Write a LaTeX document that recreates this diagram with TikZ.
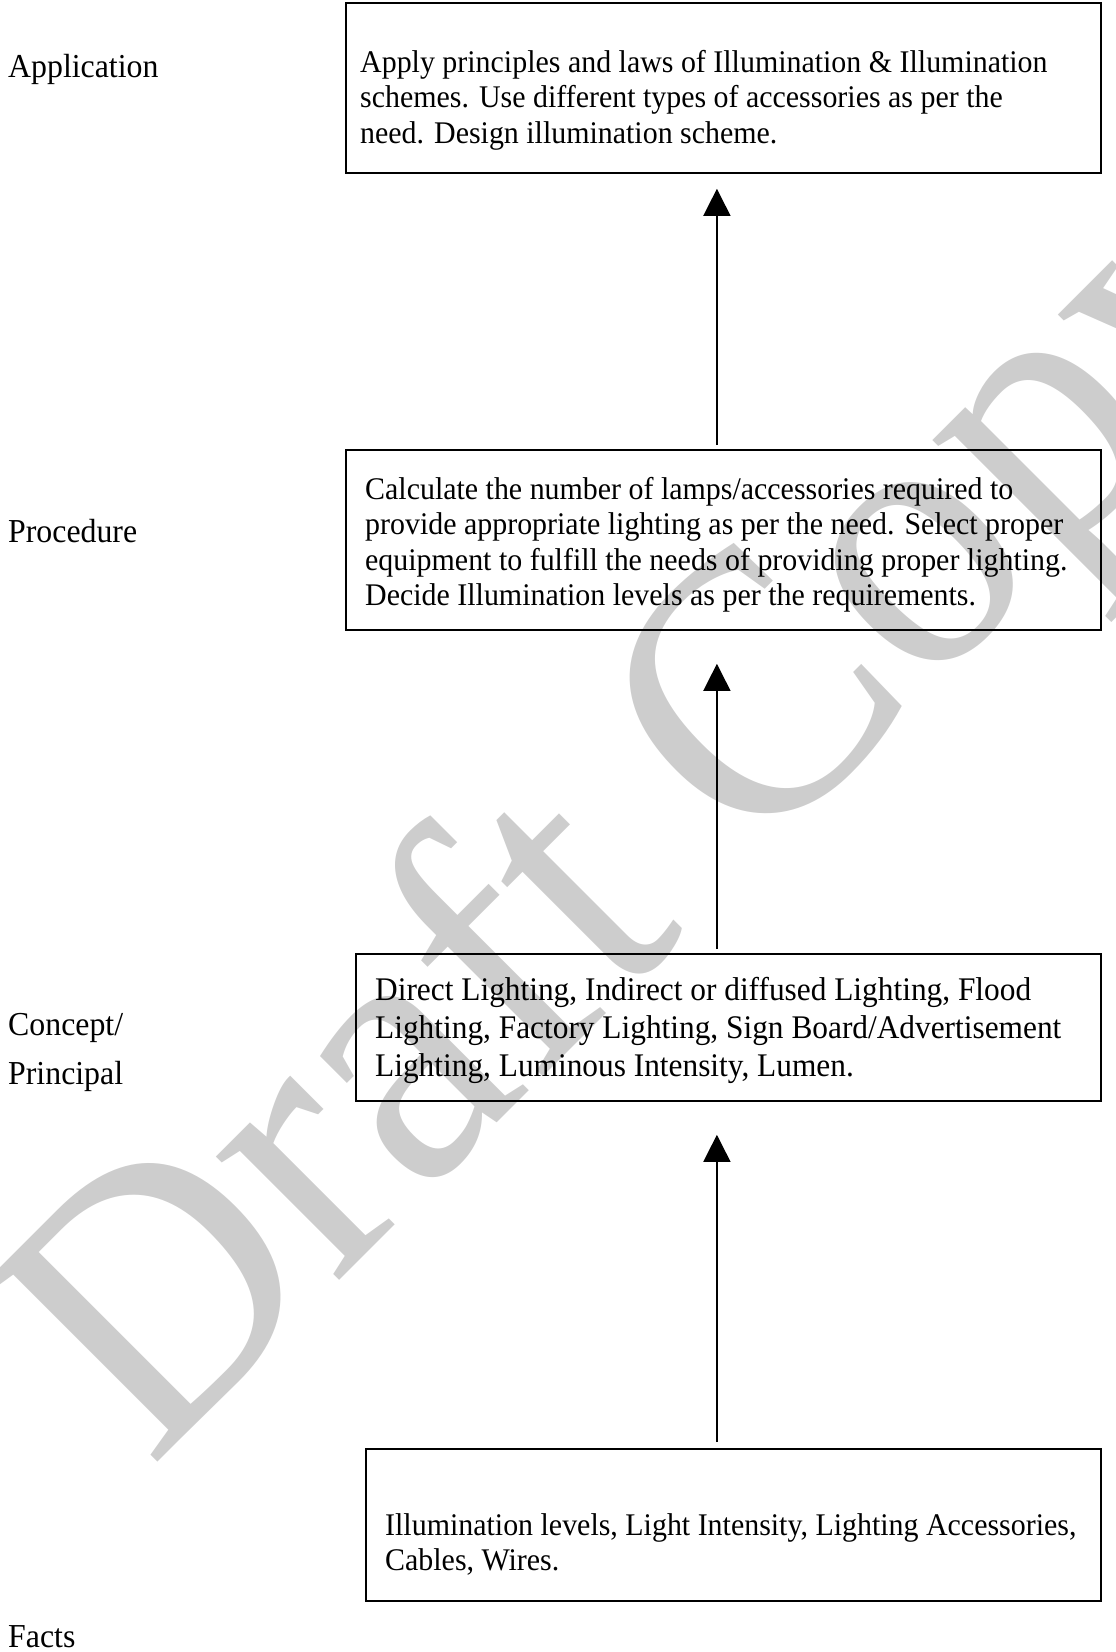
\documentclass[tikz,border=0pt]{standalone}
\usepackage{fontspec}
\setmainfont{Liberation Serif}[FakeStretch=0.95]
\usepackage{xcolor}
\usepackage{tikz}
\usetikzlibrary{arrows.meta,calc}

\definecolor{markgray}{RGB}{205,205,205}

\tikzset{
	boxshape/.style={draw, line width=1.8pt, anchor=north west, inner sep=0pt},
	boxtext/.style={anchor=north west, inner sep=0pt, align=left, font=\fontsize{31.5}{35.5}\selectfont},
	sidetext/.style={anchor=base west, inner sep=0pt, font=\fontsize{33.5}{38}\selectfont},
	uparrow/.style={line width=1.5pt, -{Triangle[length=27pt, width=27pt]}},
}

\begin{document}
\begin{tikzpicture}[x=1pt,y=1pt,yscale=-1,xscale=1]
	\useasboundingbox (0,0) rectangle (1116,1652);
	
	% Watermark
	\node [rotate=45, anchor=base west, inner sep=0pt, text=markgray, font=\fontsize{380}{380}\selectfont] (draftmark) at (150,1470) {Draft Copy};
	
	%Shape: Rectangle [application]
	\node [boxshape, minimum width=755, minimum height=170] (appbox) at (345,2) {};
	%Shape: Rectangle [procedure]
	\node [boxshape, minimum width=755, minimum height=180] (procbox) at (345,449) {};
	%Shape: Rectangle [concept]
	\node [boxshape, minimum width=745, minimum height=147] (conbox) at (355,953) {};
	%Shape: Rectangle [facts]
	\node [boxshape, minimum width=735, minimum height=152] (factbox) at (365,1448) {};
	
	%Straight Lines
	\draw [uparrow] ($(procbox.north)+(-6.5,-4)$) -- ($(appbox.south)+(-6.5,15)$);
	\draw [uparrow] ($(conbox.north)+(-11.5,-4)$) -- ($(procbox.south)+(-6.5,33)$);
	\draw [uparrow] ($(factbox.north)+(-16.5,-6)$) -- ($(conbox.south)+(-11.5,33)$);
	
	% Text Node
	\node [boxtext] (apptext) at (360,50) {Apply principles and laws of Illumination \& Illumination\\schemes. Use different types of accessories as per the\\need. Design illumination scheme.};
	% Text Node
	\node [boxtext] (proctext) at (365,477) {Calculate the number of lamps/accessories required to\\provide appropriate lighting as per the need. Select proper\\equipment to fulfill the needs of providing proper lighting.\\Decide Illumination levels as per the requirements.};
	% Text Node
	\node [boxtext, font=\fontsize{33}{38}\selectfont] (context) at (375,977) {Direct Lighting, Indirect or diffused Lighting, Flood\\Lighting, Factory Lighting, Sign Board/Advertisement\\Lighting, Luminous Intensity, Lumen.};
	% Text Node
	\node [boxtext] (facttext) at (385,1513) {Illumination levels, Light Intensity, Lighting Accessories,\\Cables, Wires.};
	
	% Text Node
	\node [sidetext] (applabel) at (8,77) {Application};
	% Text Node
	\node [sidetext] (proclabel) at (8,542) {Procedure};
	% Text Node
	\node [sidetext] (conlabel) at (8,1035) {Concept/};
	% Text Node
	\node [sidetext] (prinlabel) at (8,1084) {Principal};
	% Text Node
	\node [sidetext] (factlabel) at (8,1647) {Facts};
\end{tikzpicture}
\end{document}
